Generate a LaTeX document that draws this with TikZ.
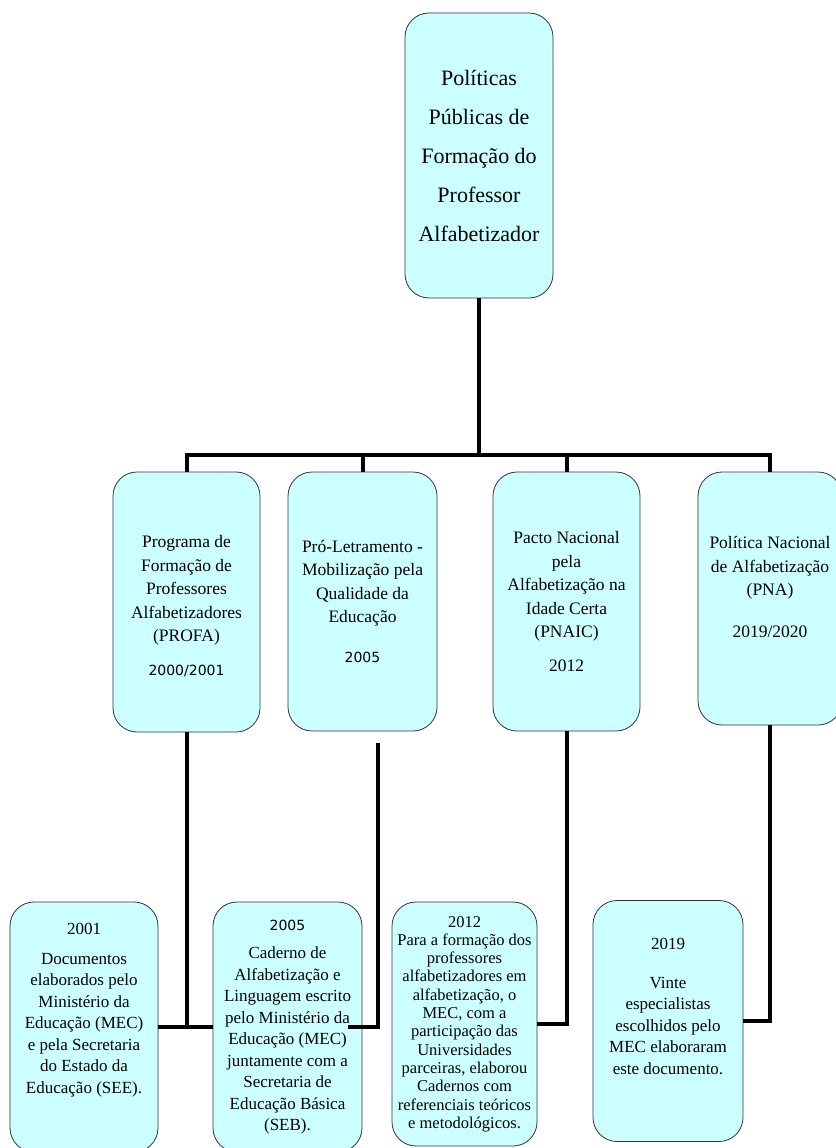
\documentclass[tikz,border=0pt]{standalone}
\usepackage{fontspec}
\setmainfont{Liberation Serif}
\newfontfamily\yearfont{DejaVu Sans}
\usetikzlibrary{positioning,calc}

\definecolor{panelfill}{HTML}{CCFFFF}
\newcommand\titletxt{\fontsize{22}{39}\selectfont}
\newcommand\progtxt{\fontsize{17.5}{23.5}\selectfont}
\newcommand\doctxt{\fontsize{17}{21.5}\selectfont}
\newcommand\densetxt{\fontsize{16.5}{18.3}\selectfont}
\newcommand\yeartxt{\yearfont\fontsize{14}{23}\selectfont}

\tikzset{
  panel/.style={draw=black!80, line width=0.8pt, fill=panelfill,
    rounded corners=24pt, align=center, inner sep=0pt},
  link/.style={line width=4pt}
}

\begin{document}
\begin{tikzpicture}[x=1pt,y=1pt]
\useasboundingbox (0,0) rectangle (835,-1148);

\node[panel, minimum width=148, minimum height=285, font=\titletxt] (top) at (479,-155.5)
  {Políticas\\Públicas de\\Formação do\\Professor\\Alfabetizador};

% programas
\node[panel, minimum width=147, minimum height=260, font=\progtxt] (profa) at (186.5,-602)
  {\mbox{}\\[-3.5pt]Programa de\\Formação de\\Professores\\Alfabetizadores\\(PROFA)\\[10pt]{\yeartxt 2000/2001}};
\node[panel, minimum width=149, minimum height=259, font=\progtxt] (pro) at (362.5,-601.5)
  {\mbox{}\\[-11.5pt]Pró-Letramento -\\Mobilização pela\\Qualidade da\\Educação\\[16pt]{\yeartxt 2005}};
\node[panel, minimum width=147, minimum height=259, font=\progtxt] (pnaic) at (566.5,-601.5)
  {Pacto Nacional\\pela\\Alfabetização na\\Idade Certa\\(PNAIC)\\[10pt]2012};
\node[panel, minimum width=144, minimum height=253, font=\progtxt] (pna) at (770,-598.5)
  {Política Nacional\\de Alfabetização\\(PNA)\\[18pt]2019/2020\\\mbox{}};

% documentos
\node[panel, minimum width=148, minimum height=250, font=\doctxt] (doc01) at (84,-1027)
  {2001\\[8pt]Documentos\\elaborados pelo\\Ministério da\\Educação (MEC)\\e pela Secretaria\\do Estado da\\Educação (SEE).\\[16pt]\mbox{}};
\node[panel, minimum width=149, minimum height=250, font=\doctxt] (doc05) at (287.5,-1027)
  {{\yeartxt 2005}\\[7pt]Caderno de\\Alfabetização e\\Linguagem escrito\\pelo Ministério da\\Educação (MEC)\\juntamente com a\\Secretaria de\\Educação Básica\\(SEB).};
\node[panel, minimum width=145, minimum height=244, font=\densetxt] (doc12) at (464.5,-1024)
  {2012\\Para a formação dos\\professores\\alfabetizadores em\\alfabetização, o\\MEC, com a\\participação das\\Universidades\\parceiras, elaborou\\Cadernos com\\referenciais teóricos\\e metodológicos.};
\node[panel, minimum width=150, minimum height=241, font=\doctxt] (doc19) at (668,-1021)
  {2019\\[17pt]Vinte\\especialistas\\escolhidos pelo\\MEC elaboraram\\este documento.\\[8pt]\mbox{}};

\draw[link] (top.south) -- ++(0,-157) coordinate (hub);
\draw[link] (profa.north) |- (hub) -| (pna.north);
\draw[link] (pro.north) -- (pro.north |- hub);
\draw[link] (pnaic.north) -- (pnaic.north |- hub);

\coordinate (proend) at ($(pro.south)+(15.5,-12)$);
\draw[link] (profa.south) |- (doc01.east);
\draw[link] (profa.south) |- (doc05.west);
\draw[link] (proend) |- ($(doc05.east)+(-14,0)$);
\draw[link] (pnaic.south) |- (doc12.east);
\draw[link] (pna.south) |- (doc19.east);
\end{tikzpicture}
\end{document}
